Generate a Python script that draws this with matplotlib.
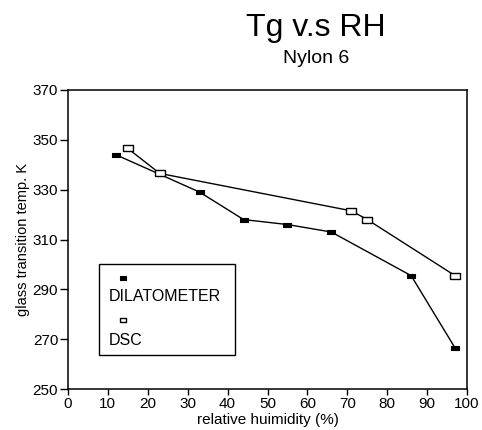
import matplotlib.pyplot as plt
from matplotlib.patches import Rectangle

plt.rcParams['font.family'] = ['Liberation Sans', 'DejaVu Sans']

# data
dil_rh = [12, 33, 44, 55, 66, 86, 97]
dil_tg = [344, 329, 318, 316, 313, 295.5, 266.5]

dsc_rh = [15, 23, 71, 75, 97]
dsc_tg = [346.5, 336.5, 321.5, 318, 295.5]

x_ticks = [0, 10, 20, 30, 40, 50, 60, 70, 80, 90, 100]
y_ticks = [250, 270, 290, 310, 330, 350, 370]

# wide little rectangle marker
rect = [(-1, -0.6), (1, -0.6), (1, 0.6), (-1, 0.6), (-1, -0.6)]

fig = plt.figure(figsize=(4.82, 4.3), dpi=100)
ax = fig.add_axes([0.141, 0.095, 0.828, 0.696])

ax.plot(dil_rh, dil_tg, color='black', lw=1.0, marker=rect, ms=5.5,
        mfc='black', mec='black', mew=0.8)
ax.plot(dsc_rh, dsc_tg, color='black', lw=1.0, marker=rect, ms=6.5,
        mfc='white', mec='black', mew=1.0)

ax.set_xlim(0, 100)
ax.set_ylim(250, 370)
ax.set_xticks(x_ticks)
ax.set_yticks(y_ticks)
ax.tick_params(axis='y', direction='out', length=6, width=1, labelsize=11, pad=1)
ax.tick_params(axis='x', direction='out', length=4, width=1, labelsize=11, pad=2)
for s in ax.spines.values():
    s.set_linewidth(1.1)

ax.set_xlabel('relative huimidity (%)', fontsize=11, labelpad=1)
ax.set_ylabel('glass transition temp. K', fontsize=10.5, labelpad=2)

fig.text(0.655, 0.916, 'Tg v.s RH', ha='center', va='baseline', fontsize=23)
fig.text(0.655, 0.853, 'Nylon 6', ha='center', va='baseline', fontsize=14)

# hand-made legend box: marker above each label
ax.add_patch(Rectangle((0.078, 0.114), 0.341, 0.304, transform=ax.transAxes,
                       fill=False, ec='black', lw=1.0))
ax.plot([0.138], [0.371], transform=ax.transAxes, ls='none', marker=rect,
        ms=5, mfc='black', mec='black', mew=0.8)
ax.text(0.102, 0.309, 'DILATOMETER', transform=ax.transAxes, fontsize=11.5,
        va='center')
ax.plot([0.138], [0.231], transform=ax.transAxes, ls='none', marker=rect,
        ms=5, mfc='white', mec='black', mew=1.0)
ax.text(0.102, 0.164, 'DSC', transform=ax.transAxes, fontsize=11.5,
        va='center')

fig.savefig('out.png', dpi=100)
